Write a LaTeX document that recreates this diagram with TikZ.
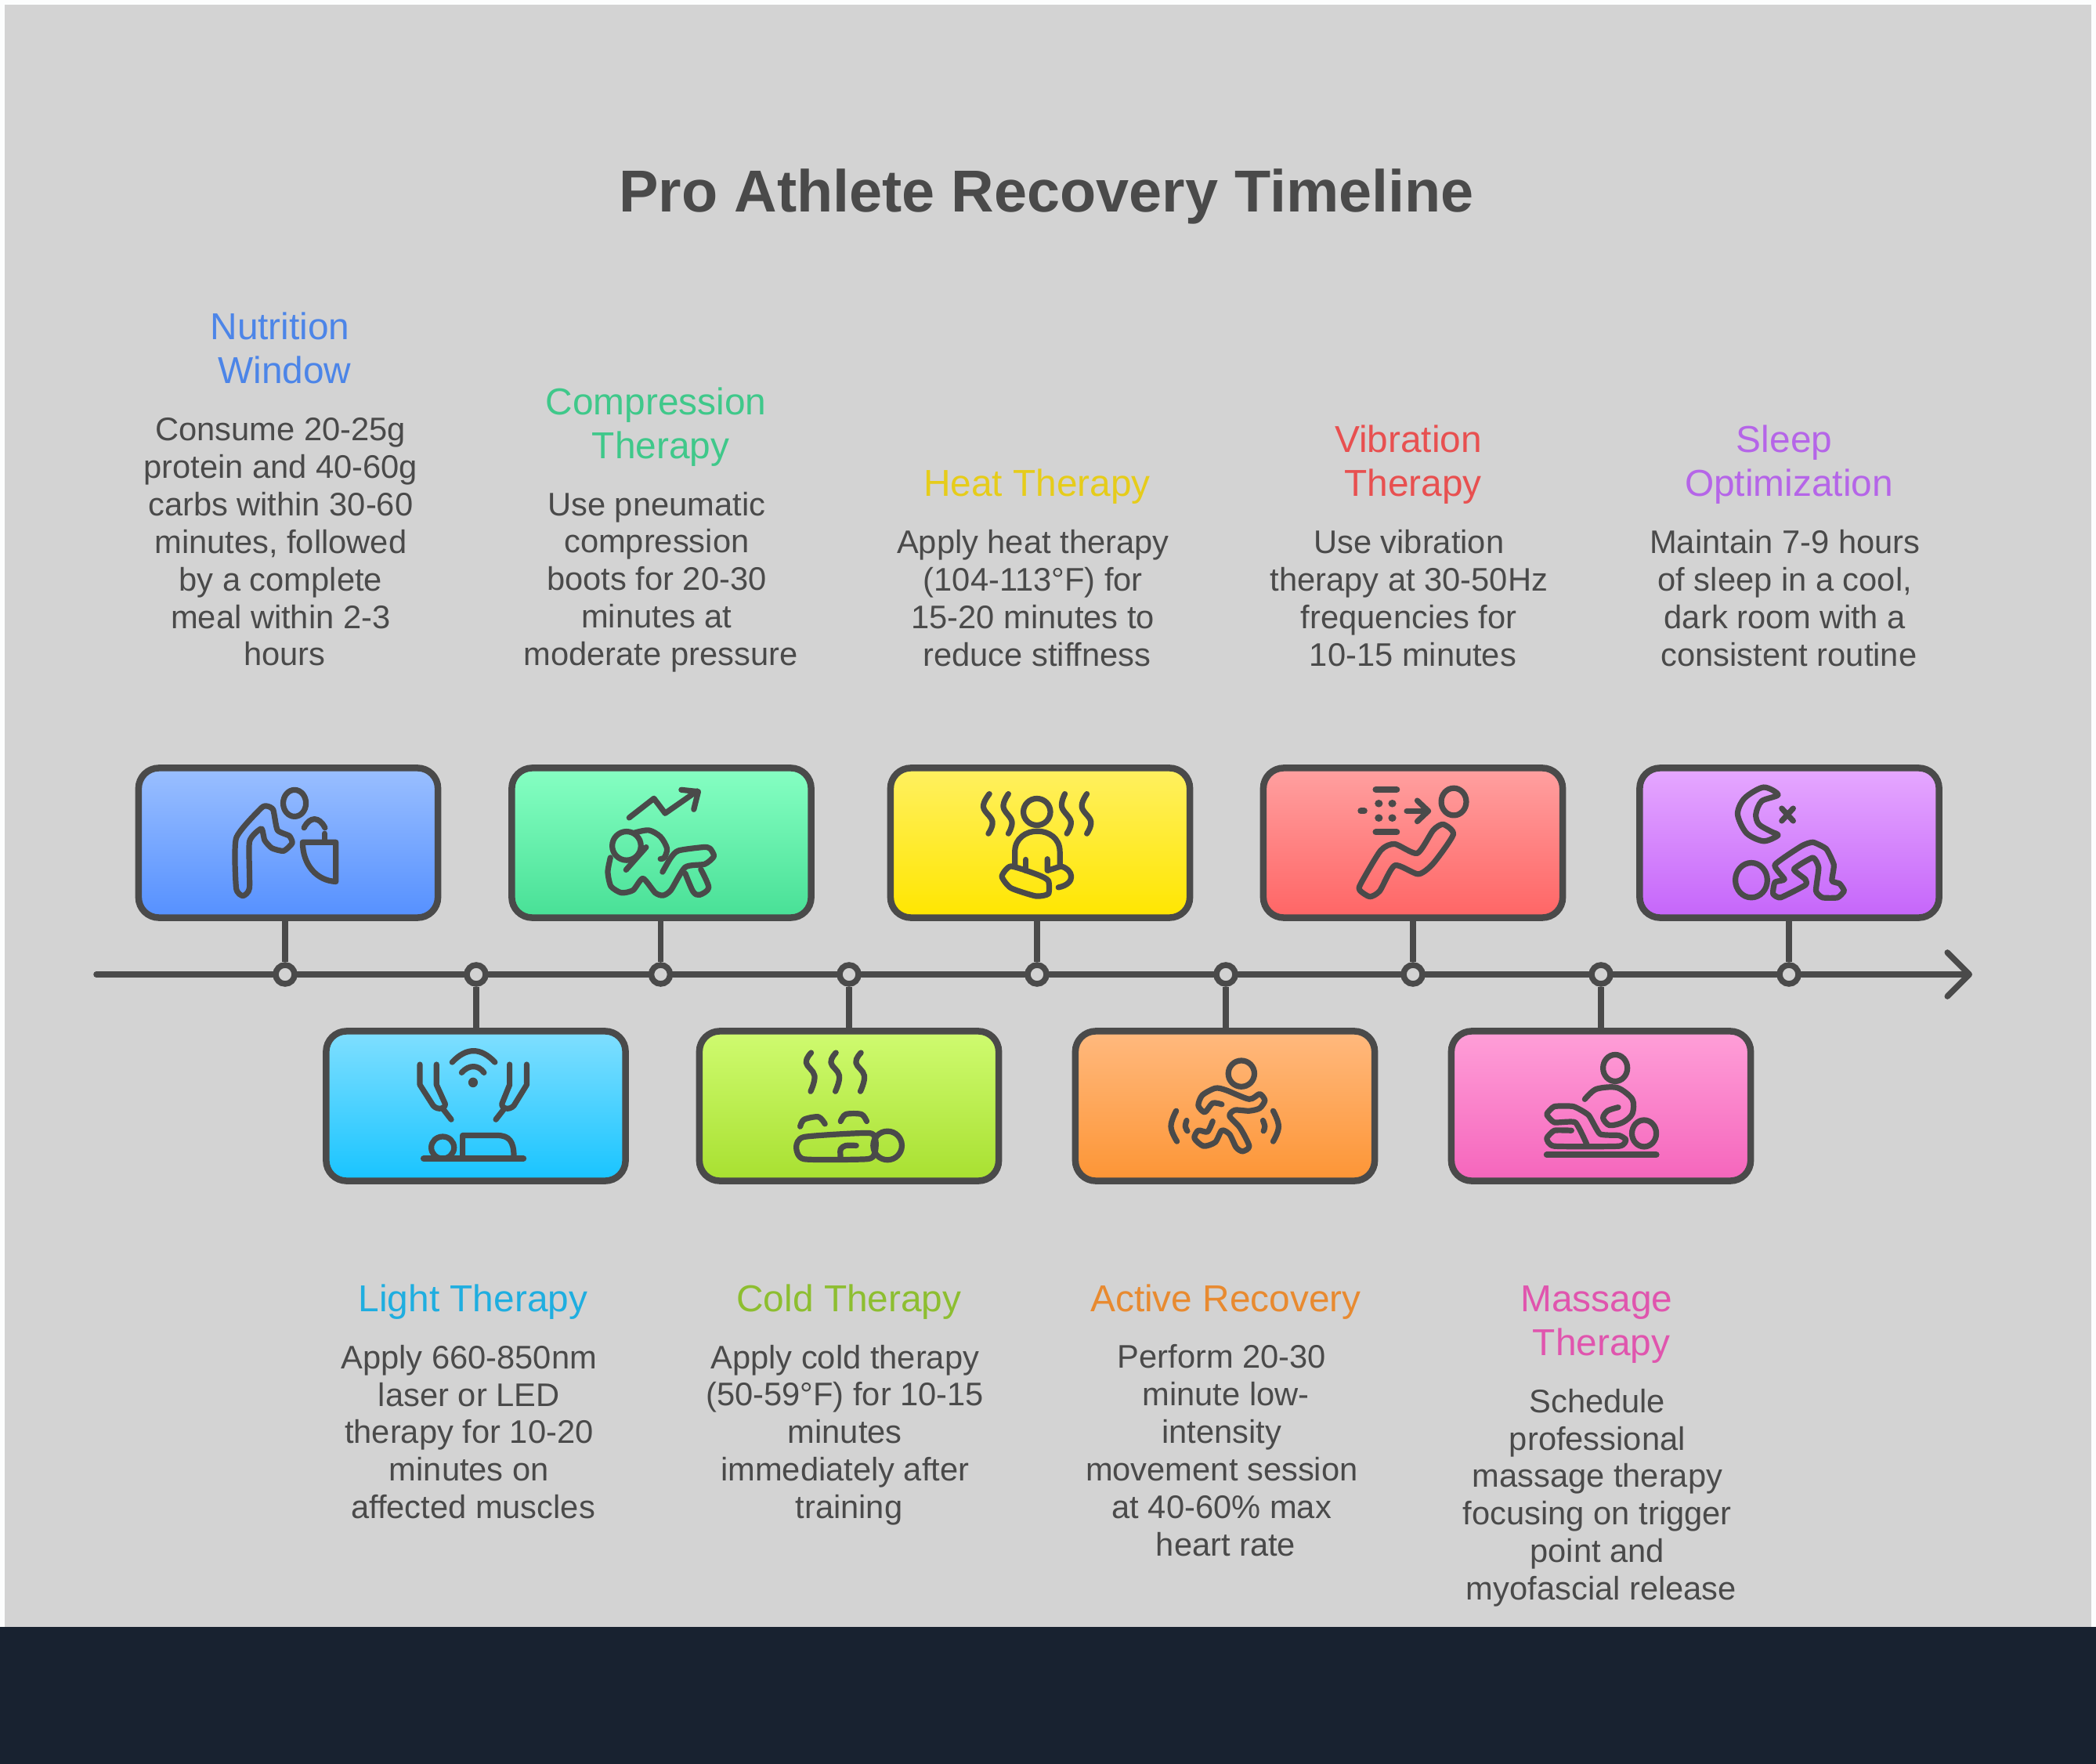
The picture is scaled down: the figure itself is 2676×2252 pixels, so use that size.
\documentclass[tikz,border=0pt]{standalone}
\usepackage{fontspec}
\setmainfont{Liberation Sans}
\usetikzlibrary{arrows.meta}
\definecolor{ink}{HTML}{4A4A4A}
\definecolor{paper}{HTML}{D3D3D3}
\definecolor{band}{HTML}{182230}
\definecolor{margin}{HTML}{FCFDFD}
\definecolor{nutritiontop}{HTML}{9ABFFF}
\definecolor{nutritionbot}{HTML}{5590FF}
\definecolor{nutritionhd}{HTML}{4C85E8}
\definecolor{compressiontop}{HTML}{86FFC3}
\definecolor{compressionbot}{HTML}{48E096}
\definecolor{compressionhd}{HTML}{3FC88A}
\definecolor{heattop}{HTML}{FFF060}
\definecolor{heatbot}{HTML}{FFE600}
\definecolor{heathd}{HTML}{E6CC1A}
\definecolor{vibrationtop}{HTML}{FFA0A0}
\definecolor{vibrationbot}{HTML}{FF6565}
\definecolor{vibrationhd}{HTML}{E85050}
\definecolor{sleeptop}{HTML}{E6A8FF}
\definecolor{sleepbot}{HTML}{C565FA}
\definecolor{sleephd}{HTML}{B565E8}
\definecolor{lighttop}{HTML}{80DFFF}
\definecolor{lightbot}{HTML}{18C4FF}
\definecolor{lighthd}{HTML}{1FAEE0}
\definecolor{coldtop}{HTML}{CFFB70}
\definecolor{coldbot}{HTML}{A8E030}
\definecolor{coldhd}{HTML}{8DBE30}
\definecolor{activetop}{HTML}{FFB97E}
\definecolor{activebot}{HTML}{FD9535}
\definecolor{activehd}{HTML}{E88A30}
\definecolor{massagetop}{HTML}{FF9FD8}
\definecolor{massagebot}{HTML}{F565BC}
\definecolor{massagehd}{HTML}{E055AE}
\newcommand{\trsp}{\hbox to .25em{}}
\tikzset{
  stepbox/.style={rectangle,draw=ink,line width=.085cm,rounded corners=.26cm,minimum width=3.82cm,minimum height=1.91cm},
  tickdot/.style={circle,draw=ink,fill=paper,line width=.075cm,minimum size=.24cm,inner sep=0pt},
  conn/.style={draw=ink,line width=.075cm},
  icon/.style={draw=ink,line width=.072cm,line cap=round,line join=round},
  head/.style={font=\fontsize{13.6}{16}\selectfont,align=center,inner sep=0pt},
  body/.style={font=\fontsize{11.85}{13.6}\selectfont,align=center,inner sep=0pt,text=ink}
}
\begin{document}
\begin{tikzpicture}[x=.01cm,y=-.01cm]
\useasboundingbox (0,0) rectangle (2676,2252);
\fill[margin] (0,0) rectangle (2676,2252);
\fill[paper] (6,6) rectangle (2670,2077);
\fill[band] (0,2077) rectangle (2676,2252);

\node[font=\bfseries\fontsize{21.5}{26}\selectfont,text=ink,inner sep=0pt] (title) at (1336,251) {Pro Athlete Recovery Timeline};

\coordinate (tlstart) at (123,1244);
\coordinate (tlend) at (2518,1244);
\draw[conn,line cap=round,-{Straight Barb[length=.28cm,width=.56cm,round]}] (tlstart) -- (tlend);

\node[stepbox,top color=nutritiontop,bottom color=nutritionbot] (nutrition) at (368,1076) {};
\node[stepbox,top color=compressiontop,bottom color=compressionbot] (compression) at (844.5,1076) {};
\node[stepbox,top color=heattop,bottom color=heatbot] (heat) at (1328,1076) {};
\node[stepbox,top color=vibrationtop,bottom color=vibrationbot] (vibration) at (1804,1076) {};
\node[stepbox,top color=sleeptop,bottom color=sleepbot] (sleep) at (2284.5,1076) {};
\node[stepbox,top color=lighttop,bottom color=lightbot] (light) at (607.5,1412) {};
\node[stepbox,top color=coldtop,bottom color=coldbot] (cold) at (1084,1412) {};
\node[stepbox,top color=activetop,bottom color=activebot] (active) at (1564,1412) {};
\node[stepbox,top color=massagetop,bottom color=massagebot] (massage) at (2044,1412) {};

\node[tickdot] (t1) at (364,1244) {};
\node[tickdot] (t2) at (608,1244) {};
\node[tickdot] (t3) at (843.5,1244) {};
\node[tickdot] (t4) at (1084,1244) {};
\node[tickdot] (t5) at (1324,1244) {};
\node[tickdot] (t6) at (1565,1244) {};
\node[tickdot] (t7) at (1804,1244) {};
\node[tickdot] (t8) at (2044,1244) {};
\node[tickdot] (t9) at (2284,1244) {};

\draw[conn] (t1) -- (t1 |- nutrition.south);
\draw[conn] (t3) -- (t3 |- compression.south);
\draw[conn] (t5) -- (t5 |- heat.south);
\draw[conn] (t7) -- (t7 |- vibration.south);
\draw[conn] (t9) -- (t9 |- sleep.south);
\draw[conn] (t2) -- (t2 |- light.north);
\draw[conn] (t4) -- (t4 |- cold.north);
\draw[conn] (t6) -- (t6 |- active.north);
\draw[conn] (t8) -- (t8 |- massage.north);

\node[head,text=nutritionhd] (nutritionhead) at (363.5,444.6) {Nutrition\trsp\\Window};
\node[body] (nutritiontext) at (363.5,692) {Consume 20-25g\trsp\\protein and 40-60g\trsp\\carbs within 30-60\trsp\\minutes, followed\trsp\\by a complete\trsp\\meal within 2-3\trsp\\hours};
\node[head,text=compressionhd] (compressionhead) at (843.5,545) {Compression\trsp\\Therapy};
\node[body] (compressiontext) at (843.5,743) {Use pneumatic\trsp\\compression\trsp\\boots for 20-30\trsp\\minutes at\trsp\\moderate pressure};
\node[head,text=heathd] (heathead) at (1324,621) {Heat Therapy};
\node[body] (heattext) at (1324,763.7) {Apply heat therapy\trsp\\(104-113°F) for\trsp\\15-20 minutes to\trsp\\reduce stiffness};
\node[head,text=vibrationhd] (vibrationhead) at (1804,593) {Vibration\trsp\\Therapy};
\node[body] (vibrationtext) at (1804,763.7) {Use vibration\trsp\\therapy at 30-50Hz\trsp\\frequencies for\trsp\\10-15 minutes};
\node[head,text=sleephd] (sleephead) at (2284,593) {Sleep\trsp\\Optimization};
\node[body] (sleeptext) at (2284,763.7) {Maintain 7-9 hours\trsp\\of sleep in a cool,\trsp\\dark room with a\trsp\\consistent routine};
\node[head,text=lighthd] (lighthead) at (604,1662) {Light Therapy};
\node[body] (lighttext) at (604,1828) {Apply 660-850nm\trsp\\laser or LED\trsp\\therapy for 10-20\trsp\\minutes on\trsp\\affected muscles};
\node[head,text=coldhd] (coldhead) at (1084,1662) {Cold Therapy};
\node[body] (coldtext) at (1084,1832) {Apply cold therapy\trsp\\(50-59°F) for 10-15\trsp\\minutes\trsp\\immediately after\trsp\\training};
\node[head,text=activehd] (activehead) at (1565,1662) {Active Recovery};
\node[body] (activetext) at (1565,1851.6) {Perform 20-30\trsp\\minute low-\\intensity\trsp\\movement session\trsp\\at 40-60\% max\trsp\\heart rate};
\node[head,text=massagehd] (massagehead) at (2044.5,1691) {Massage\trsp\\Therapy};
\node[body] (massagetext) at (2044.5,1912) {Schedule\trsp\\professional\trsp\\massage therapy\trsp\\focusing on trigger\trsp\\point and\trsp\\myofascial release};

\begin{scope}[shift={(150,960)},x=.006059cm,y=-.003699cm]
\draw[icon] (373,177) ellipse (24 and 46);
\draw[icon] plot[smooth cycle,tension=.35] coordinates {(250,298) (302,195) (315,187) (328,200) (337,270) (362,290) (368,315) (350,342) (325,332) (310,305) (303,265) (278,310) (278,470) (264,497) (250,470)};
\draw[icon] (390,312) -- (460,312) -- (460,448) .. controls (420,445) and (390,390) .. (390,312);
\draw[icon] (436,282) -- (436,312);
\draw[icon] (393,262) .. controls (405,222) and (425,222) .. (437,262);
\draw[icon] (705,1072) .. controls (735,1020) and (765,1020) .. (795,1072);
\draw[icon] (725,1108) .. controls (740,1080) and (760,1080) .. (772,1108);
\fill[ink] (749,1142) ellipse (10 and 17);
\draw[icon] (637,1080) -- (637,1150) -- (665,1222) .. controls (675,1240) and (692,1232) .. (690,1215) -- (672,1150) -- (672,1080);
\draw[icon] (685,1232) -- (703,1270);
\draw[icon] (862,1080) -- (862,1150) -- (835,1222) .. controls (825,1240) and (808,1232) .. (810,1215) -- (826,1150) -- (826,1080);
\draw[icon] (815,1232) -- (797,1270);
\draw[icon,line width=.08cm] (645,1405) -- (855,1405);
\draw[icon] (685,1367) ellipse (24 and 38);
\draw[icon] (727,1400) -- (727,1325) -- (800,1325) .. controls (825,1325) and (835,1345) .. (835,1400);
\end{scope}

\begin{scope}[shift={(760,1000)},x=.003333cm,y=-.003333cm]
\draw[icon] (130,132) -- (225,58) -- (268,115) -- (390,30);
\draw[icon] (330,25) -- (395,32) -- (378,100);
\draw[icon] (120,240) circle (55);
\draw[icon] plot[smooth,tension=.4] coordinates {(58,285) (48,340) (60,395) (100,420) (145,410) (183,365) (230,420) (260,430) (290,410) (345,322) (420,310) (455,280) (440,250) (415,245) (320,258) (290,285) (258,340)};
\draw[icon] (195,245) -- (118,332);
\draw[icon] plot[smooth,tension=.5] coordinates {(150,190) (205,180) (250,205) (275,250) (265,285) (250,290)};
\draw[icon] plot[smooth,tension=.5] coordinates {(345,345) (375,415) (400,428) (435,400) (405,330)};
\end{scope}

\begin{scope}[shift={(1080,960)},x=.006378cm,y=-.003699cm]
\draw[icon] (382,207) ellipse (27 and 46);
\draw[icon] plot[smooth,tension=.7] coordinates {(287,145) (275,190) (293,240) (285,282)};
\draw[icon] plot[smooth,tension=.7] coordinates {(325,145) (315,190) (332,240) (325,282)};
\draw[icon] plot[smooth,tension=.7] coordinates {(438,145) (432,190) (450,240) (442,282)};
\draw[icon] plot[smooth,tension=.7] coordinates {(482,145) (472,190) (490,240) (482,282)};
\draw[icon] (338,390) -- (338,345) .. controls (338,250) and (428,250) .. (428,345) -- (428,390);
\draw[icon] (360,372) -- (360,410);
\draw[icon] (403,370) -- (403,410) -- (430,395) .. controls (455,405) and (462,455) .. (425,468);
\draw[icon] plot[smooth cycle,tension=.35] coordinates {(330,395) (312,430) (330,470) (380,498) (405,490) (405,445) (385,425)};
\draw[icon] (1216,172) ellipse (25 and 47);
\draw[icon,line width=.08cm] (1060,130) -- (1102,130);
\draw[icon,line width=.08cm] (1060,277) -- (1102,277);
\draw[icon,line width=.08cm] (1030,204) -- (1037,204);
\fill[ink] (1066,178) ellipse (8 and 13);
\fill[ink] (1093,178) ellipse (8 and 13);
\fill[ink] (1066,228) ellipse (8 and 13);
\fill[ink] (1093,228) ellipse (8 and 13);
\draw[icon] (1122,204) -- (1165,204);
\draw[icon] (1143,168) -- (1165,204) -- (1143,240);
\draw[icon] plot[smooth cycle,tension=.4] coordinates {(1030,455) (1070,340) (1098,318) (1143,350) (1175,270) (1195,250) (1215,285) (1175,385) (1145,422) (1098,392) (1068,480) (1048,500) (1028,478)};
\end{scope}

\begin{scope}[shift={(1800,960)},x=.004847cm,y=-.003699cm]
\draw[icon] plot[smooth cycle,tension=.5] coordinates {(968,148) (930,122) (880,160) (862,215) (885,280) (930,308) (968,288) (950,275) (918,250) (910,215) (925,170)};
\draw[icon] (978,195) -- (1008,238);
\draw[icon] (1008,195) -- (978,238);
\draw[icon] (898,443) ellipse (42 and 60);
\draw[icon] plot[smooth cycle,tension=.3] coordinates {(960,390) (1030,325) (1060,312) (1095,335) (1115,390) (1110,445) (1130,455) (1142,480) (1125,503) (1085,503) (1068,480) (1075,400) (1060,365) (1010,405) (1040,440) (1040,460) (975,503) (955,490) (960,450) (985,440)};
\draw[icon] (540,1092) ellipse (32 and 46);
\draw[icon] plot[smooth,tension=.5] coordinates {(460,1200) (490,1165) (545,1160) (585,1200) (585,1250) (560,1280) (525,1290) (508,1265) (520,1240) (548,1228)};
\draw[icon] plot[smooth,tension=.3] coordinates {(425,1308) (380,1308) (360,1335) (380,1362) (550,1362) (568,1340) (550,1325) (500,1320) (470,1255) (430,1225) (380,1225) (360,1252) (380,1280) (435,1280) (465,1355)};
\draw[icon,line width=.08cm] (360,1392) -- (648,1392);
\draw[icon] (616,1318) ellipse (32 and 46);
\end{scope}

\begin{scope}[shift={(990,1330)},x=.003333cm,y=-.003333cm]
\draw[icon] plot[smooth,tension=.7] coordinates {(137,42) (118,80) (150,130) (135,190)};
\draw[icon] plot[smooth,tension=.7] coordinates {(232,42) (213,80) (245,130) (230,190)};
\draw[icon] plot[smooth,tension=.7] coordinates {(328,42) (309,80) (341,130) (326,190)};
\draw[icon] plot[smooth,tension=.5] coordinates {(95,325) (110,298) (165,288) (190,315)};
\draw[icon] plot[smooth,tension=.5] coordinates {(250,305) (270,278) (330,278) (350,305)};
\draw[icon] plot[smooth cycle,tension=.35] coordinates {(360,350) (110,365) (80,405) (110,450) (350,450) (380,430) (385,385)};
\draw[icon] (430,398) circle (55);
\draw[icon] plot[smooth,tension=.5] coordinates {(250,445) (250,412) (270,398) (310,398)};
\end{scope}

\begin{scope}[shift={(1480,1340)},x=.003333cm,y=-.003333cm]
\draw[icon] (315,92) circle (50);
\draw[icon] plot[smooth,tension=.45] coordinates {(240,210) (205,205) (175,240) (150,215) (165,175) (215,148) (255,155) (345,190) (385,170) (405,195) (385,225) (345,235) (290,232) (270,255) (310,300) (345,370) (320,390) (295,375) (270,325) (240,310) (215,355) (170,370) (135,340) (150,310) (185,315) (205,275)};
\draw[icon] plot[smooth,tension=.7] coordinates {(65,235) (45,295) (68,352)};
\draw[icon] plot[smooth,tension=.7] coordinates {(105,272) (100,295) (108,312)};
\draw[icon] plot[smooth,tension=.7] coordinates {(398,272) (405,295) (400,312)};
\draw[icon] plot[smooth,tension=.7] coordinates {(437,235) (458,295) (437,352)};
\end{scope}
\end{tikzpicture}
\end{document}
